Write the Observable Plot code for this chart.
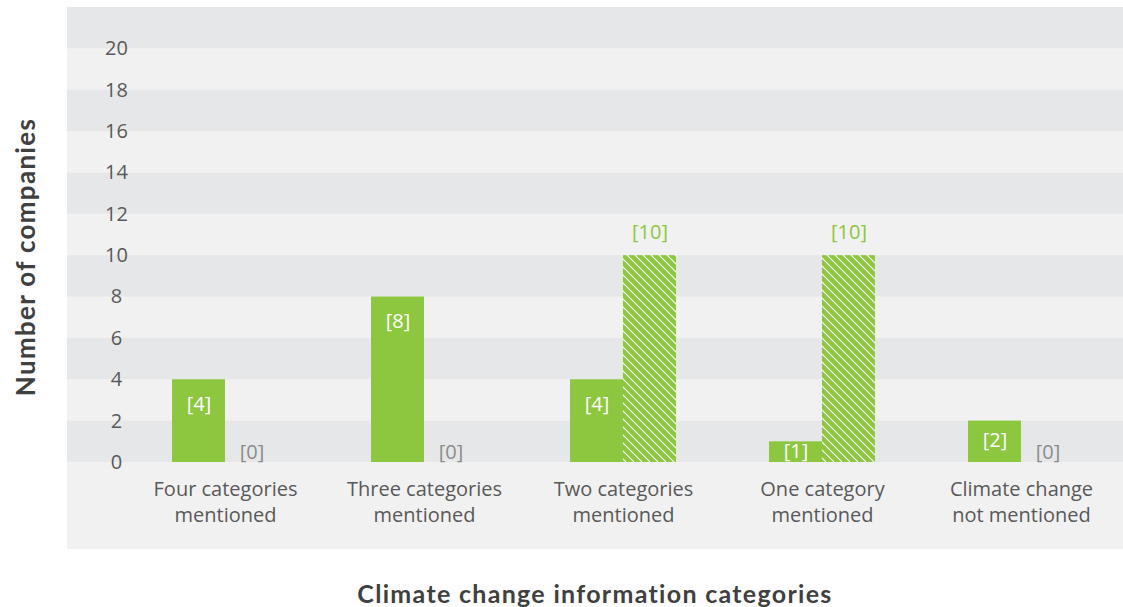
<!DOCTYPE html>
<html>
<head>
<meta charset="utf-8">
<script src="https://cdn.jsdelivr.net/npm/d3@7"></script>
<script src="https://cdn.jsdelivr.net/npm/@observablehq/plot@0.6"></script>
<style>
  html, body { margin: 0; padding: 0; background: #ffffff; }
  #wrap { position: relative; width: 1123px; height: 607px; overflow: hidden; }
  #chart { position: absolute; left: 67px; top: 7px; }
  .ytitle { position: absolute; left: 25px; top: 257px; transform: translate(-50%, -50%) rotate(-90deg);
    font-family: Lato, sans-serif; font-weight: 700; font-size: 26px; color: #404040; white-space: nowrap; letter-spacing: 1.3px; }
  .xtitle { position: absolute; left: 595px; top: 593px; transform: translate(-50%, -50%);
    font-family: Lato, sans-serif; font-weight: 700; font-size: 25px; color: #404040; white-space: nowrap; letter-spacing: 1.3px; }
</style>
</head>
<body>
<div id="wrap">
  <div id="chart"></div>
  <div class="ytitle">Number of companies</div>
  <div class="xtitle">Climate change information categories</div>
</div>
<script>
// ---- data ----
const categories = [
  "Four categories\nmentioned",
  "Three categories\nmentioned",
  "Two categories\nmentioned",
  "One category\nmentioned",
  "Climate change\nnot mentioned"
];
const seriesSolid = [4, 8, 4, 1, 2];
const seriesHatched = [0, 0, 10, 10, 0];
const yTicks = [0, 2, 4, 6, 8, 10, 12, 14, 16, 18, 20];
const bandStarts = [0, 4, 8, 12, 16, 20];
const bandSize = 2;

const GREEN = "#8dc63f";
const solid = categories.map((c, i) => ({category: c, value: seriesSolid[i]}));
const hatched = categories.map((c, i) => ({category: c, value: seriesHatched[i]}));
const bands = bandStarts.map(b => ({y1: b, y2: b + bandSize}));

const font = "'Open Sans', sans-serif";

const chart = Plot.plot({
  width: 1056,
  height: 542,
  marginLeft: 0,
  marginRight: 0,
  marginTop: 0,
  marginBottom: 87,
  style: {background: "#f1f1f1", fontFamily: font, overflow: "visible"},
  x: {domain: categories, range: [58.5, 1053.5], paddingInner: 0.467, paddingOuter: 0.2335, label: null},
  y: {domain: [0, 22], label: null},
  marks: [
    Plot.rectY(bands, {y1: "y1", y2: "y2", fill: "#e6e7e8"}),
    Plot.barY(solid, {x: "category", y: "value", fill: GREEN, insetRight: 53}),
    Plot.barY(hatched, {x: "category", y: "value", fill: "url(#hatch)", insetLeft: 53}),
    // labels for solid series
    Plot.text(solid.filter(d => d.value >= 3), {x: "category", y: "value", text: d => `[${d.value}]`,
      dx: -26.5, dy: 25, fill: "white", fontSize: 20, fontFamily: font}),
    Plot.text(solid.filter(d => d.value < 3), {x: "category", y: d => d.value / 2, text: d => `[${d.value}]`,
      dx: -26.5, dy: -1, fill: "white", fontSize: 20, fontFamily: font}),
    // labels for hatched series
    Plot.text(hatched.filter(d => d.value > 0), {x: "category", y: "value", text: d => `[${d.value}]`,
      dx: 26.5, dy: -23, fill: "#8dc63f", fontSize: 20, fontFamily: font}),
    Plot.text(hatched.filter(d => d.value === 0), {x: "category", y: "value", text: d => `[${d.value}]`,
      dx: 26.5, dy: -10, fill: "#8c8c8c", fontSize: 20, fontFamily: font}),
    Plot.axisY({ticks: yTicks, tickSize: 0, tickPadding: 0, textAnchor: "middle", dx: 49,
      fontSize: 20, fill: "#595959", label: null, fontFamily: font}),
    Plot.axisX({tickSize: 0, tickPadding: 15, fontSize: 20, fill: "#595959", lineHeight: 1.3,
      label: null, fontFamily: font})
  ]
});

// hatch pattern definition
const svg = d3.select(chart);
const defs = svg.insert("defs", ":first-child");
const pat = defs.append("pattern")
  .attr("id", "hatch")
  .attr("patternUnits", "userSpaceOnUse")
  .attr("width", 8).attr("height", 8);
pat.append("rect").attr("width", 8).attr("height", 8).attr("fill", GREEN);
pat.append("path")
  .attr("d", "M-2,-2L10,10M-2,6L2,10M6,-2L10,2")
  .attr("stroke", "white").attr("stroke-width", 1.1).attr("fill", "none");

document.getElementById("chart").appendChild(chart);
</script>
</body>
</html>
